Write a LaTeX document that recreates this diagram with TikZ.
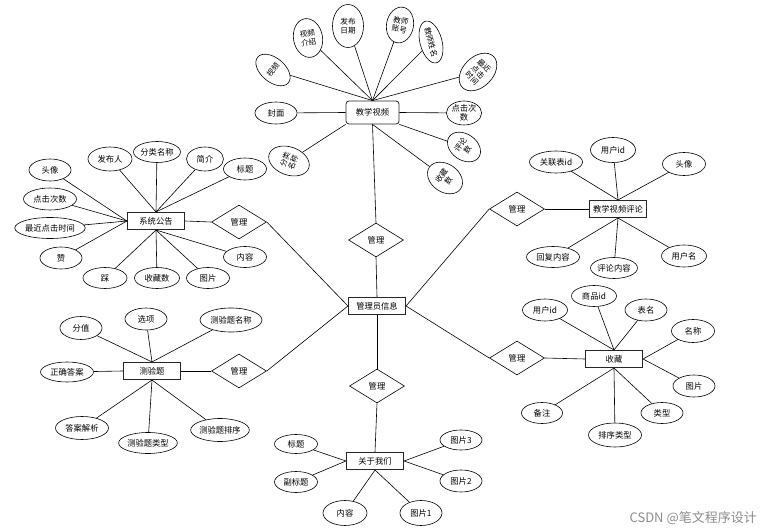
\documentclass[tikz,border=0pt]{standalone}
\usepackage{fontspec}
\setmainfont{Noto Sans CJK SC}
\usetikzlibrary{shapes.geometric}
\begin{document}
\begin{tikzpicture}[x=1pt,y=-1pt,
  every node/.style={font=\fontsize{8.3}{9.3}\selectfont, inner sep=0pt, align=center},
  ent/.style={draw=black!85, line width=1.1pt, minimum width=57pt, minimum height=17pt, fill=white},
  attr/.style={draw, ellipse, line width=0.6pt, minimum width=#1, minimum height=22pt, fill=white},
  attr/.default=44pt,
  vattr/.style={draw, ellipse, line width=0.6pt, fill=white, font=\fontsize{7.6}{8.6}\selectfont},
  rel/.style={draw, diamond, line width=0.6pt, minimum width=55pt, minimum height=34pt, fill=white},
  con/.style={line width=0.6pt}
]
\useasboundingbox (0,0) rectangle (764,532);

% ---------- central ----------
\node[ent] (admin) at (377,306) {管理员信息};

% ---------- 教学视频 ----------
\node[ent, rounded corners=3pt, minimum width=53pt, minimum height=23pt, line width=0.8pt] (jx) at (372.5,112.5) {教学视频};
\node[vattr, minimum width=24pt, minimum height=40pt, rotate=50] (sp) at (273,70) {视频};
\node[vattr, minimum width=29pt, minimum height=39pt, rotate=10] (spjs) at (308,38) {视频\\介绍};
\node[vattr, minimum width=31pt, minimum height=43pt] (fbrq) at (348,26) {发布\\日期};
\node[vattr, minimum width=27pt, minimum height=36pt, rotate=-10] (jszh) at (400,25) {教师\\账号};
\node[vattr, minimum width=40pt, minimum height=22pt, rotate=-75] (jsxm) at (431,42) {教师姓名};
\node[vattr, minimum width=30pt, minimum height=44pt, rotate=-45] (zjdj) at (478,72) {最近\\点击\\时间};
\node[vattr, minimum width=35pt, minimum height=24pt, font=\fontsize{8.3}{9.3}\selectfont] (djcs) at (464,113) {点击次\\数};
\node[vattr, minimum width=26pt, minimum height=36pt, rotate=55] (pls) at (464,147) {评论\\数};
\node[vattr, minimum width=28pt, minimum height=38pt, rotate=55] (scs) at (445,178) {收藏\\数};
\node[attr=42pt] (fm) at (276,113) {封面};
\node[vattr, minimum width=28pt, minimum height=42pt, rotate=70] (flmc) at (289,161) {分类\\名称};
\foreach \n in {sp,spjs,fbrq,jszh,jsxm,zjdj}{\draw[con] (jx.north) -- (\n);}
\draw[con] (jx.east) -- (djcs);
\draw[con] (jx.south east) -- (pls);
\draw[con] (jx.south) -- (scs);
\draw[con] (jx.west) -- (fm);
\draw[con] (jx.south west) -- (flmc);

\node[rel] (r1) at (376,240) {管理};
\draw[con] (jx.south) -- (r1.north);
\draw[con] (r1.south) -- (admin.north);

% ---------- 系统公告 ----------
\node[ent] (xt) at (156,221) {系统公告};
\node[attr=42pt] (a1) at (50,170) {头像};
\node[attr=44pt, minimum height=24pt] (a2) at (110,159) {发布人};
\node[attr=45pt, minimum height=21pt] (a3) at (157,152) {分类名称};
\node[attr=37pt, minimum height=24pt] (a4) at (205,159) {简介};
\node[attr=43pt] (a5) at (245,169) {标题};
\node[attr=53pt] (a6) at (50,199) {点击次数};
\node[attr=70pt, minimum height=21pt] (a7) at (50,228) {最近点击时间};
\node[attr=42pt] (a8) at (61,258) {赞};
\node[attr=44pt, minimum height=21pt] (a9) at (105,278) {踩};
\node[attr=45pt, minimum height=21pt] (a10) at (157,278) {收藏数};
\node[attr=43pt, minimum height=21pt] (a11) at (208,278) {图片};
\node[attr=43pt, minimum height=21pt] (a12) at (245,257) {内容};
\foreach \n in {a1,a6,a7,a8}{\draw[con] (xt.west) -- (\n);}
\foreach \n in {a2,a3,a4,a5}{\draw[con] (xt.north) -- (\n);}
\foreach \n in {a9,a10,a11,a12}{\draw[con] (xt.south) -- (\n);}
\node[rel] (r2) at (239,222) {管理};
\draw[con] (xt.east) -- (r2.west);
\draw[con] (r2.east) -- (admin.west);

% ---------- 测验题 ----------
\node[ent] (cy) at (152,371) {测验题};
\node[attr=42pt, minimum height=23pt] (b1) at (81,328) {分值};
\node[attr=42pt] (b2) at (146,319) {选项};
\node[attr=62pt, minimum height=24pt] (b3) at (231,320) {测验题名称};
\node[attr=53pt, minimum height=20pt] (b4) at (67,372) {正确答案};
\node[attr=53pt, minimum height=23pt] (b5) at (82,428) {答案解析};
\node[attr=53pt, minimum height=21pt] (b6) at (148,443) {测验题类型};
\node[attr=54pt, minimum height=23pt] (b7) at (220,430) {测验题排序};
\foreach \n in {b1,b2,b3}{\draw[con] (cy.north) -- (\n);}
\draw[con] (cy.west) -- (b4);
\foreach \n in {b5,b6,b7}{\draw[con] (cy.south) -- (\n);}
\node[rel] (r3) at (239,371) {管理};
\draw[con] (cy.east) -- (r3.west);
\draw[con] (r3.east) -- (admin.west);

% ---------- 教学视频评论 ----------
\node[ent] (pl) at (618,209) {教学视频评论};
\node[attr=53pt] (c1) at (556,162) {关联表id};
\node[attr=45pt, minimum height=25pt] (c2) at (613,150) {用户id};
\node[attr=43pt, minimum height=23pt] (c3) at (684,164) {头像};
\node[attr=53pt, minimum height=21pt] (c4) at (553,257) {回复内容};
\node[attr=46pt, minimum height=21pt] (c5) at (614,268) {评论内容};
\node[attr=45pt] (c6) at (684,256) {用户名};
\foreach \n in {c1,c2,c3}{\draw[con] (pl.north) -- (\n);}
\foreach \n in {c4,c5,c6}{\draw[con] (pl.south) -- (\n);}
\node[rel] (r4) at (517,209) {管理};
\draw[con] (pl.west) -- (r4.east);
\draw[con] (r4.west) -- (admin.east);

% ---------- 收藏 ----------
\node[ent] (sc) at (614,359) {收藏};
\node[attr=45pt] (d1) at (545,310) {用户id};
\node[attr=45pt, minimum height=21pt] (d2) at (594,296) {商品id};
\node[attr=42pt] (d3) at (646,310) {表名};
\node[attr=43pt, minimum height=23pt] (d4) at (693,331) {名称};
\node[attr=42pt, minimum height=22pt] (d5) at (694,386) {图片};
\node[attr=42pt, minimum height=21pt] (d6) at (662,413) {类型};
\node[attr=53pt, minimum height=24pt] (d7) at (615,435) {排序类型};
\node[attr=41pt, minimum height=21pt] (d8) at (542,413) {备注};
\foreach \n in {d1,d2,d3}{\draw[con] (sc.north) -- (\n);}
\foreach \n in {d4,d5}{\draw[con] (sc.east) -- (\n);}
\foreach \n in {d6,d7,d8}{\draw[con] (sc.south) -- (\n);}
\node[rel] (r5) at (517,358) {管理};
\draw[con] (sc.west) -- (r5.east);
\draw[con] (r5.west) -- (admin.east);

% ---------- 关于我们 ----------
\node[ent] (gy) at (375,461) {关于我们};
\node[attr=43pt, minimum height=19pt] (e1) at (296,444) {标题};
\node[attr=43pt, minimum height=21pt] (e2) at (296,482) {副标题};
\node[attr=44pt, minimum height=25pt] (e3) at (345,513) {内容};
\node[attr=42pt, minimum height=25pt] (e4) at (421,513) {图片1};
\node[attr=42pt, minimum height=20pt] (e5) at (461,440) {图片3};
\node[attr=42pt, minimum height=22pt] (e6) at (461,481) {图片2};
\foreach \n in {e1,e2}{\draw[con] (gy.west) -- (\n);}
\foreach \n in {e3,e4}{\draw[con] (gy.south) -- (\n);}
\foreach \n in {e5,e6}{\draw[con] (gy.east) -- (\n);}
\node[rel] (r6) at (377,386) {管理};
\draw[con] (admin.south) -- (r6.north);
\draw[con] (r6.south) -- (gy.north);

% ---------- watermark ----------
\node[text=black!45, font=\fontsize{13}{14}\selectfont, anchor=east] (wm) at (757,518) {CSDN @笔文程序设计};
\end{tikzpicture}
\end{document}
